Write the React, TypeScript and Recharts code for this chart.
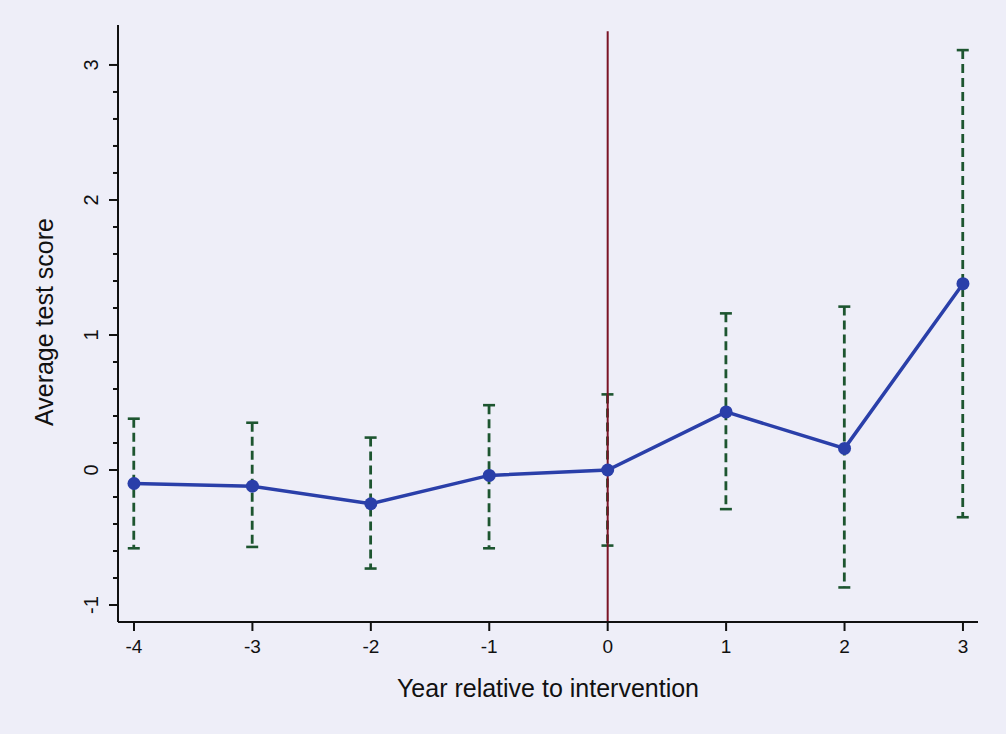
import React from 'react'
import { Bar, ComposedChart, Line, ReferenceLine, XAxis, YAxis } from 'recharts';

// event-study estimates
const years = [-4, -3, -2, -1, 0, 1, 2, 3];
const estimates = [-0.10, -0.12, -0.25, -0.04, 0, 0.43, 0.16, 1.38];
const ciLow = [-0.58, -0.57, -0.73, -0.58, -0.56, -0.29, -0.87, -0.35];
const ciHigh = [0.38, 0.35, 0.24, 0.48, 0.56, 1.16, 1.21, 3.11];

const xTicks = [-4, -3, -2, -1, 0, 1, 2, 3];
const yTicks = [-1, -0.8, -0.6, -0.4, -0.2, 0, 0.2, 0.4, 0.6, 0.8, 1, 1.2, 1.4, 1.6, 1.8, 2, 2.2, 2.4, 2.6, 2.8, 3];

const xTitle = 'Year relative to intervention';
const yTitle = 'Average test score';

const FONT = '"Liberation Sans", Arial, Helvetica, sans-serif';
const BLUE = '#2a3fa9';
const GREEN = '#1d5530';
const MAROON = '#7a1426';

const rows = years.map((y, i) => ({
  year: y,
  est: estimates[i],
  ci: [ciLow[i], ciHigh[i]],
}));

const XTick = (props: any) => {
  const { x, y, payload } = props;
  return (
    <g>
      <line x1={x} y1={y} x2={x} y2={y + 9} stroke="#111" strokeWidth={2} />
      <text x={x} y={y + 31} textAnchor="middle" fill="#111"
        style={{ fontSize: '19px', fontFamily: FONT }}>
        {payload.value}
      </text>
    </g>
  );
};

const YTick = (props: any) => {
  const { x, y, payload } = props;
  const major = Number.isInteger(payload.value);
  const tx = x - 20;
  return (
    <g>
      <line x1={x - (major ? 9 : 5)} y1={y} x2={x} y2={y} stroke="#111" strokeWidth={2} />
      {major && (
        <text x={tx} y={y} textAnchor="middle" fill="#111"
          style={{ fontSize: '20px', fontFamily: FONT }}
          transform={`rotate(-90, ${tx}, ${y})`}>
          {payload.value}
        </text>
      )}
    </g>
  );
};

// dashed vertical CI with solid caps, drawn from the range bar's box
const CiShape = (props: any) => {
  const { x, y, width, height } = props;
  if (x == null || y == null) return null;
  const cx = x + width / 2;
  return (
    <g>
      <line x1={cx} y1={y} x2={cx} y2={y + height} stroke={GREEN} strokeWidth={2.8} strokeDasharray="9 5" />
      <line x1={cx - 6} y1={y} x2={cx + 6} y2={y} stroke={GREEN} strokeWidth={2.6} />
      <line x1={cx - 6} y1={y + height} x2={cx + 6} y2={y + height} stroke={GREEN} strokeWidth={2.6} />
    </g>
  );
};

const App = () => {
  return (
    <div style={{ position: 'absolute', left: 0, top: 0, width: 1006, height: 734, background: '#eeeef8' }}>
      <ComposedChart
        width={1006}
        height={734}
        data={rows}
        margin={{ top: 25, right: 28, left: 0, bottom: 0 }}
      >
        <XAxis
          dataKey="year"
          type="number"
          domain={[-4.135, 3.127]}
          ticks={xTicks}
          allowDataOverflow
          height={112}
          stroke="#111"
          strokeWidth={2}
          tickLine={false}
          tickSize={0}
          tickMargin={0}
          tick={<XTick />}
          label={{
            content: () => (
              <text x={548} y={697} textAnchor="middle" fill="#111"
                style={{ fontSize: '25px', fontFamily: FONT }}>
                {xTitle}
              </text>
            ),
          }}
        />
        <YAxis
          type="number"
          domain={[-1.126, 3.296]}
          ticks={yTicks}
          allowDataOverflow
          interval={0}
          width={118}
          stroke="#111"
          strokeWidth={2}
          tickLine={false}
          tickSize={0}
          tickMargin={0}
          tick={<YTick />}
          label={{
            content: () => (
              <text x={53} y={322} textAnchor="middle" fill="#111"
                style={{ fontSize: '25px', fontFamily: FONT }}
                transform="rotate(-90, 53, 322)">
                {yTitle}
              </text>
            ),
          }}
        />
        <Bar dataKey="ci" barSize={12} shape={<CiShape />} isAnimationActive={false} />
        <ReferenceLine
          segment={[{ x: 0, y: 3.25 }, { x: 0, y: -1.126 }]}
          stroke={MAROON}
          strokeWidth={2}
        />
        <Line
          type="linear"
          dataKey="est"
          stroke={BLUE}
          strokeWidth={3.5}
          dot={{ r: 6.5, fill: BLUE, stroke: BLUE, strokeWidth: 0 }}
          activeDot={false}
          isAnimationActive={false}
        />
      </ComposedChart>
    </div>
  );
}

export default App
